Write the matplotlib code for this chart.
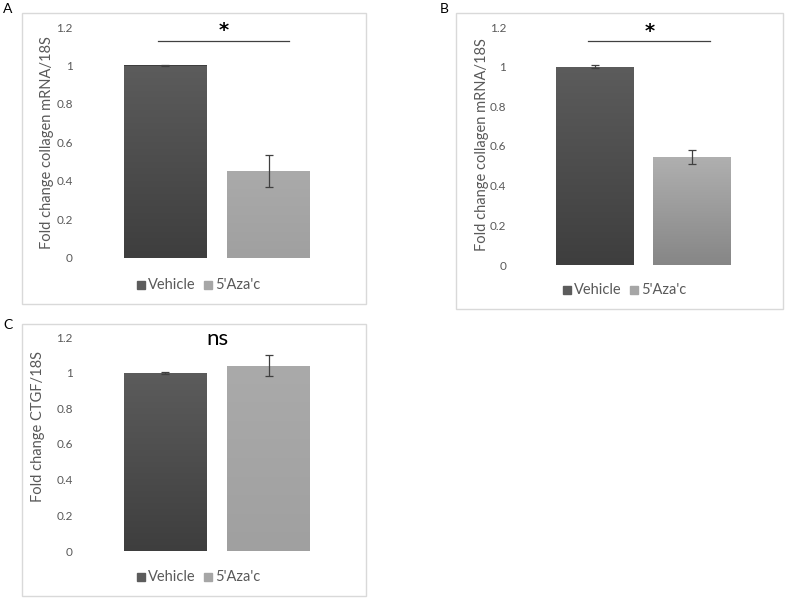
import numpy as np
import matplotlib.pyplot as plt
from matplotlib.patches import Rectangle
from matplotlib.colors import LinearSegmentedColormap

plt.rcParams['font.family'] = ['Lato', 'DejaVu Sans']

# data
groups = ['Vehicle', "5'Aza'c"]
panel_a_vals = [1.0, 0.45]
panel_a_err = [0.005, 0.083]
panel_b_vals = [1.0, 0.545]
panel_b_err = [0.007, 0.035]
panel_c_vals = [1.0, 1.04]
panel_c_err = [0.005, 0.06]
yticks = [0, 0.2, 0.4, 0.6, 0.8, 1, 1.2]
ytick_labels = ['0', '0.2', '0.4', '0.6', '0.8', '1', '1.2']

W, H = 787, 600
fig = plt.figure(figsize=(W / 100, H / 100), dpi=100)

dark_top, dark_bot = '#5c5c5c', '#3e3e3e'
light_top, light_bot = '#aaaaaa', '#a0a0a0'
light_top_b, light_bot_b = '#b0b0b0', '#868686'
txt_grey = '#595959'


def px_axes(x0, x1, y_top, y_bot):
    # pixel box -> figure fraction
    return [x0 / W, 1 - y_bot / H, (x1 - x0) / W, (y_bot - y_top) / H]


def frame(x0, y0, x1, y1):
    fig.patches.append(Rectangle((x0 / W, 1 - y1 / H), (x1 - x0) / W, (y1 - y0) / H,
                                 transform=fig.transFigure, fill=False,
                                 edgecolor='#d9d9d9', linewidth=1.0))


def grad_bar(ax, x, h, c_top, c_bot):
    bar = ax.bar(x, h, width=0.8, color=c_bot, zorder=2)[0]
    grad = np.linspace(0, 1, 256).reshape(-1, 1)
    cmap = LinearSegmentedColormap.from_list('g', [c_bot, c_top])
    im = ax.imshow(grad, cmap=cmap, aspect='auto', origin='lower',
                   extent=(x - 0.4, x + 0.4, 0, h), zorder=2)
    im.set_clip_path(bar)
    return bar


def panel(pos, vals, errs, light, sig=None):
    ax = fig.add_axes(pos)
    grad_bar(ax, 0, vals[0], dark_top, dark_bot)
    grad_bar(ax, 1, vals[1], light[0], light[1])
    ax.errorbar([0, 1], vals, yerr=errs, fmt='none', ecolor='#404040',
                elinewidth=0.9, capsize=3, capthick=0.9, zorder=3)
    ax.set_xlim(-0.6, 1.6)
    ax.set_ylim(0, 1.2)
    ax.set_yticks(yticks)
    ax.set_yticklabels(ytick_labels)
    ax.set_xticks([])
    ax.tick_params(axis='y', length=0, pad=22, labelsize=8.5, labelcolor=txt_grey)
    for s in ax.spines.values():
        s.set_visible(False)
    if sig == '*':
        ax.plot([-0.07, 1.19], [1.127, 1.127], color='#404040', lw=0.9, clip_on=False)
        ax.text(0.56, 1.13, '*', ha='center', va='bottom', fontsize=14,
                fontweight='bold', color='black', family='DejaVu Sans')
    elif sig == 'ns':
        ax.text(0.5, 1.13, 'ns', ha='center', va='bottom', fontsize=16, color='black')
    return ax


def ylab(x, y, s):
    fig.text(x / W, 1 - y / H, s, rotation=90, ha='center', va='center',
             fontsize=10.5, color=txt_grey)


def legend(x, y):
    # legend in pixel coords
    cols = [dark_top, '#a6a6a6']
    offs = [0, 67]
    for c, o, g in zip(cols, offs, groups):
        fig.patches.append(Rectangle(((x + o) / W, 1 - (y + 4) / H), 8 / W, 8 / H,
                                     transform=fig.transFigure, color=c))
        fig.text((x + o + 11) / W, 1 - y / H, g, ha='left', va='center',
                 fontsize=10.5, color=txt_grey)


# panel A
frame(22, 13, 366, 304)
panel(px_axes(103.4, 330.9, 27, 258), panel_a_vals, panel_a_err,
      (light_top, light_bot), sig='*')
ylab(47, 143, 'Fold change collagen mRNA/18S')
legend(137, 285)
fig.text(3 / W, 1 - 9 / H, 'A', fontsize=10, va='center', ha='left')

# panel B
frame(456, 13, 783, 309)
panel(px_axes(536.8, 750.2, 27, 265), panel_b_vals, panel_b_err,
      (light_top_b, light_bot_b), sig='*')
ylab(482, 145, 'Fold change collagen mRNA/18S')
legend(563, 290)
fig.text(440 / W, 1 - 9 / H, 'B', fontsize=10, va='center', ha='left')

# panel C
frame(22, 324, 366, 596)
panel(px_axes(103.4, 330.9, 337, 551), panel_c_vals, panel_c_err,
      (light_top, light_bot), sig='ns')
ylab(38, 426, 'Fold change CTGF/18S')
legend(137, 577)
fig.text(3 / W, 1 - 325 / H, 'C', fontsize=10, va='center', ha='left')

fig.savefig('out.png', dpi=100)
